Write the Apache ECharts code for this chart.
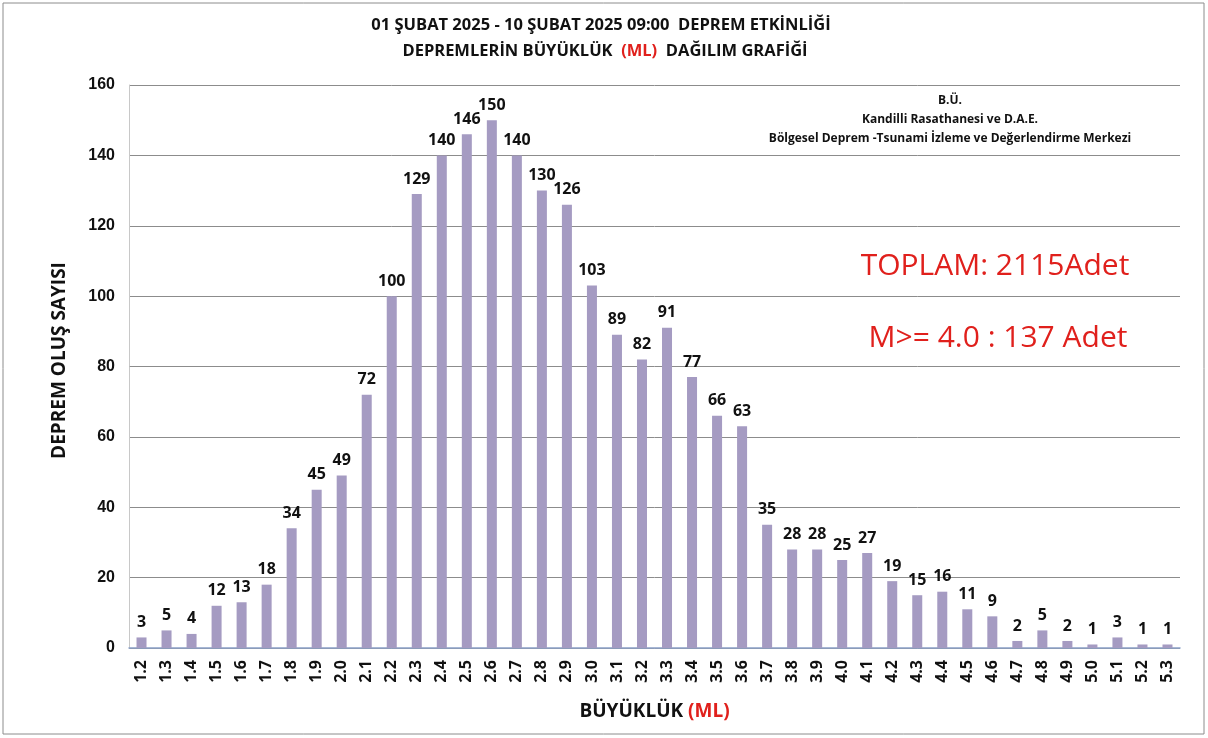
<!DOCTYPE html>
<html>
<head>
<meta charset="utf-8">
<style>
  html, body { margin: 0; padding: 0; background: #fff; }
  #chart { width: 1208px; height: 738px; }
</style>
<script src="https://cdn.jsdelivr.net/npm/echarts@6/dist/echarts.min.js"></script>
</head>
<body>
<div id="chart"></div>
<script>
var magnitudes = ['1.2','1.3','1.4','1.5','1.6','1.7','1.8','1.9','2.0','2.1','2.2','2.3','2.4','2.5','2.6','2.7','2.8','2.9','3.0','3.1','3.2','3.3','3.4','3.5','3.6','3.7','3.8','3.9','4.0','4.1','4.2','4.3','4.4','4.5','4.6','4.7','4.8','4.9','5.0','5.1','5.2','5.3'];
var counts = [3,5,4,12,13,18,34,45,49,72,100,129,140,146,150,140,130,126,103,89,82,91,77,66,63,35,28,28,25,27,19,15,16,11,9,2,5,2,1,3,1,1];
var yTicks = [0, 20, 40, 60, 80, 100, 120, 140, 160];

var font = '"Open Sans", "Noto Sans", sans-serif';
var tickFont = '"Liberation Sans", Arial, sans-serif';
var barColor = '#a59bc2';
var red = '#e0201c';

var chart = echarts.init(document.getElementById('chart'), null, { renderer: 'canvas' });

chart.setOption({
  backgroundColor: '#fff',
  animation: false,
  textStyle: { fontFamily: font },
  grid: { left: 129, right: 28, top: 85, bottom: 90 },
  xAxis: {
    type: 'category',
    data: magnitudes,
    name: '{b|BÜYÜKLÜK }{r|(ML)}',
    nameLocation: 'middle',
    nameGap: 54,
    nameTextStyle: {
      rich: {
        b: { fontFamily: font, fontSize: 19, fontWeight: 'bold', color: '#111' },
        r: { fontFamily: font, fontSize: 19, fontWeight: 'bold', color: red }
      }
    },
    axisLine: { lineStyle: { color: '#8aa0c8', width: 1.5 } },
    axisTick: { show: false },
    axisLabel: {
      rotate: 90,
      interval: 0,
      fontSize: 16,
      fontWeight: 'bold',
      color: '#111',
      margin: 12
    }
  },
  yAxis: {
    type: 'value',
    min: 0,
    max: 160,
    interval: 20,
    name: 'DEPREM OLUŞ SAYISI',
    nameLocation: 'middle',
    nameGap: 60,
    nameRotate: 90,
    nameTextStyle: { fontFamily: font, fontSize: 19, fontWeight: 'bold', color: '#111', padding: [0, 0, 0, 12] },
    axisLine: { show: true, lineStyle: { color: '#c8c8c8' } },
    axisTick: { show: false },
    axisLabel: {
      fontFamily: tickFont,
      fontSize: 16,
      fontWeight: 'bold',
      color: '#111',
      margin: 14,
      formatter: function (v) { return yTicks.indexOf(v) >= 0 ? String(v) : ''; }
    },
    splitLine: { lineStyle: { color: '#8c8c8c', width: 1 } }
  },
  series: [{
    type: 'bar',
    data: counts,
    barWidth: '40%',
    itemStyle: { color: barColor },
    label: {
      show: true,
      position: 'top',
      distance: 7,
      fontSize: 16,
      fontWeight: 'bold',
      color: '#111'
    }
  }],
  graphic: [
    {
      type: 'rect',
      shape: { x: 3, y: 3, width: 1201, height: 731 },
      style: { fill: 'none', stroke: '#8c8c8c', lineWidth: 1 },
      silent: true
    },
    {
      type: 'text',
      x: 601, y: 25,
      style: {
        text: '01 ŞUBAT 2025 - 10 ŞUBAT 2025 09:00  DEPREM ETKİNLİĞİ',
        fontFamily: font, fontSize: 16.5, fontWeight: 'bold', fill: '#111',
        textAlign: 'center', textVerticalAlign: 'middle'
      }
    },
    {
      type: 'text',
      x: 605, y: 51,
      style: {
        text: '{b|DEPREMLERİN BÜYÜKLÜK  }{r|(ML)}{b|  DAĞILIM GRAFİĞİ}',
        textAlign: 'center', textVerticalAlign: 'middle',
        rich: {
          b: { fontFamily: font, fontSize: 16.5, fontWeight: 'bold', fill: '#111' },
          r: { fontFamily: font, fontSize: 16.5, fontWeight: 'bold', fill: red }
        }
      }
    },
    {
      type: 'text',
      x: 950, y: 120,
      style: {
        text: 'B.Ü.\nKandilli Rasathanesi ve D.A.E.\nBölgesel Deprem -Tsunami İzleme ve Değerlendirme Merkezi',
        fontFamily: font, fontSize: 12, fontWeight: 'bold', fill: '#111',
        lineHeight: 19, textAlign: 'center', textVerticalAlign: 'middle'
      }
    },
    {
      type: 'text',
      x: 995, y: 266,
      style: {
        text: 'TOPLAM: 2115Adet',
        fontFamily: font, fontSize: 30, fill: red,
        textAlign: 'center', textVerticalAlign: 'middle'
      }
    },
    {
      type: 'text',
      x: 998, y: 338,
      style: {
        text: 'M>= 4.0 : 137 Adet',
        fontFamily: font, fontSize: 30, fill: red,
        textAlign: 'center', textVerticalAlign: 'middle'
      }
    }
  ]
});

window.addEventListener('resize', function () { chart.resize(); });
</script>
</body>
</html>
